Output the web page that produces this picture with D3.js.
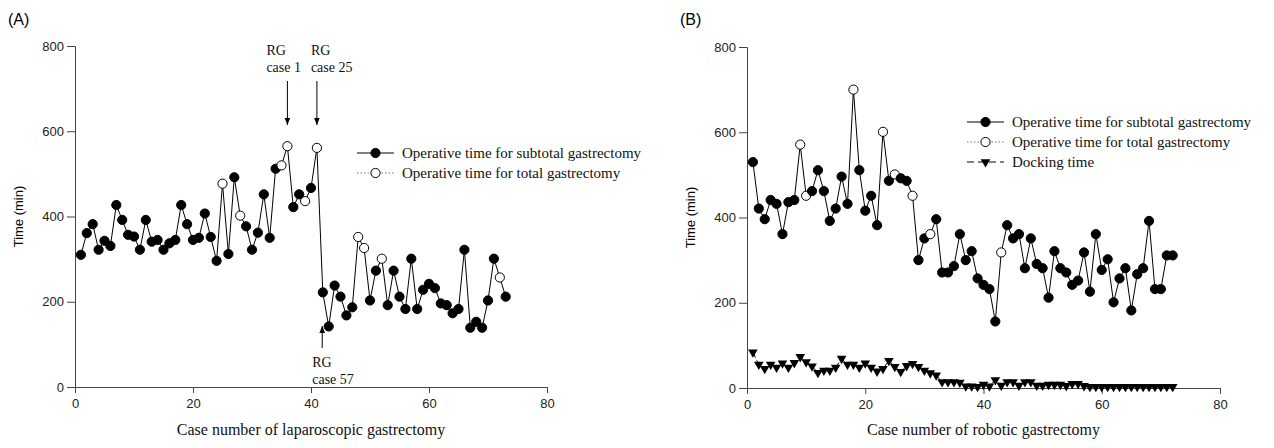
<!DOCTYPE html>
<html lang="en">
<head>
	<meta charset="UTF-8">
	<script src="https://d3js.org/d3.v7.min.js"></script>
	<title>Operative time</title>
	<style>
		body { margin: 0; background: #fff; }
		svg { display: block; }
		.tick text { font-family: "Liberation Sans", Arial, sans-serif; font-size: 13px; fill: #222; }
		.domain, .tick line { stroke: #444; }
		.serif { font-family: "Liberation Serif", "Times New Roman", serif; font-size: 15px; fill: #111; }
		.note { font-family: "Liberation Serif", "Times New Roman", serif; font-size: 14px; fill: #111; }
	</style>
</head>
<body>
	<svg width="1274" height="448"></svg>

	<script>
		// panel A: laparoscopic, case 1..73
		const lapTime = [310, 361, 382, 322, 343, 331, 427, 392, 357, 353,
			322, 392, 341, 345, 322, 337, 345, 427, 382, 345,
			350, 407, 352, 296, 477, 312, 492, 402, 377, 322,
			362, 452, 350, 512, 520, 565, 422, 452, 436, 467,
			561, 222, 142, 238, 212, 168, 187, 352, 326, 203,
			273, 301, 192, 273, 212, 183, 301, 183, 228, 242,
			232, 196, 192, 173, 183, 322, 139, 153, 139, 203,
			301, 257, 212];
		const lapTotalCases = [25, 28, 35, 36, 39, 41, 48, 49, 52, 72];

		// panel B: robotic, case 1..72
		const robTime = [530, 421, 396, 441, 432, 361, 436, 441, 571, 451,
			462, 511, 462, 392, 421, 496, 432, 700, 511, 416,
			451, 382, 601, 486, 501, 492, 486, 451, 300, 351,
			361, 396, 271, 271, 286, 361, 300, 321, 257, 242,
			232, 156, 318, 382, 351, 361, 281, 351, 291, 281,
			212, 321, 281, 271, 242, 252, 318, 226, 361, 277,
			302, 201, 257, 281, 182, 267, 281, 392, 232, 232,
			311, 311];
		const robTotalCases = [9, 10, 18, 23, 25, 28, 31, 43];
		const dockTime = [84, 55, 45, 55, 48, 58, 48, 59, 73, 61,
			51, 36, 41, 41, 48, 69, 55, 55, 48, 58,
			48, 39, 45, 64, 50, 38, 52, 57, 50, 41,
			35, 30, 14, 14, 14, 13, 4, 4, 3, 8,
			4, 19, 6, 14, 14, 6, 14, 14, 6, 6,
			8, 8, 8, 5, 10, 10, 5, 3, 3, 3,
			3, 3, 3, 3, 3, 3, 3, 3, 3, 3,
			3, 3];

		const xTicks = [0, 20, 40, 60, 80];
		const yTicks = [0, 200, 400, 600, 800];

		const svg = d3.select('svg');

		function panel(opts) {
			const x = d3.scaleLinear().domain([0, 80]).range([opts.left, opts.right]);
			const y = d3.scaleLinear().domain([0, 800]).range([opts.bottom, opts.top]);
			const g = svg.append('g');

			g.append('g')
				.attr('transform', `translate(0,${opts.bottom})`)
				.call(d3.axisBottom(x).tickValues(xTicks).tickSize(6).tickPadding(6));
			g.append('g')
				.attr('transform', `translate(${opts.left},0)`)
				.call(d3.axisLeft(y).tickValues(yTicks).tickSize(8).tickPadding(3));

			g.append('text').attr('class', 'serif')
				.style('font-size', '16px')
				.attr('x', (opts.left + opts.right) / 2).attr('y', 435)
				.attr('text-anchor', 'middle').text(opts.xTitle);
			g.append('text')
				.attr('transform', `translate(${opts.left - 52},${(opts.top + opts.bottom) / 2}) rotate(-90)`)
				.attr('text-anchor', 'middle')
				.style('font-family', '"Liberation Sans", Arial, sans-serif').style('font-size', '13px')
				.text('Time (min)');
			g.append('text')
				.attr('x', opts.left - 67).attr('y', 25)
				.style('font-family', '"Liberation Sans", Arial, sans-serif').style('font-size', '16px')
				.text(opts.label);

			const pts = opts.values.map((v, i) => ({ c: i + 1, v: v, open: opts.totals.includes(i + 1) }));
			const line = d3.line().x(d => x(d.c)).y(d => y(d.v));

			if (opts.dock) {
				const dp = opts.dock.map((v, i) => ({ c: i + 1, v: v }));
				g.append('path').datum(dp).attr('d', line)
					.attr('fill', 'none').attr('stroke', '#000').attr('stroke-width', 1)
					.attr('stroke-dasharray', '6,3');
				g.append('g').selectAll('path').data(dp).enter().append('path')
					.attr('d', d3.symbol().type(d3.symbolTriangle).size(40))
					.attr('transform', d => `translate(${x(d.c)},${y(d.v)}) rotate(180)`)
					.attr('fill', '#000');
			}

			g.append('path').datum(pts).attr('d', line)
				.attr('fill', 'none').attr('stroke', '#000').attr('stroke-width', 1);
			g.append('g').selectAll('circle').data(pts).enter().append('circle')
				.attr('cx', d => x(d.c)).attr('cy', d => y(d.v)).attr('r', 4.6)
				.attr('fill', d => d.open ? '#fff' : '#000')
				.attr('stroke', '#000').attr('stroke-width', 1);

			// legend
			const lg = g.append('g');
			opts.legend.items.forEach((it, i) => {
				const ly = opts.legend.y + i * 20;
				const lx0 = opts.legend.x, lx1 = opts.legend.x + 37;
				lg.append('line').attr('x1', lx0).attr('x2', lx1).attr('y1', ly).attr('y2', ly)
					.attr('stroke', it.kind === 'total' ? '#777' : '#000').attr('stroke-width', 1)
					.attr('stroke-dasharray', it.kind === 'total' ? '1.5,2' : it.kind === 'dock' ? '7,4' : null);
				if (it.kind === 'dock') {
					lg.append('path').attr('d', d3.symbol().type(d3.symbolTriangle).size(40))
						.attr('transform', `translate(${(lx0 + lx1) / 2},${ly}) rotate(180)`).attr('fill', '#000');
				} else {
					lg.append('circle').attr('cx', (lx0 + lx1) / 2).attr('cy', ly).attr('r', 4.6)
						.attr('fill', it.kind === 'total' ? '#fff' : '#000').attr('stroke', '#000');
				}
				lg.append('text').attr('class', 'serif').attr('x', lx1 + 8).attr('y', ly + 5).text(it.text);
			});

			return { x, y, g };
		}

		const A = panel({
			left: 75, right: 547, top: 46, bottom: 387,
			values: lapTime, totals: lapTotalCases, label: '(A)',
			xTitle: 'Case number of laparoscopic gastrectomy',
			legend: { x: 357, y: 153, items: [
				{ kind: 'sub', text: 'Operative time for subtotal gastrectomy' },
				{ kind: 'total', text: 'Operative time for total gastrectomy' }] }
		});

		const B = panel({
			left: 747, right: 1220, top: 47, bottom: 388,
			values: robTime, totals: robTotalCases, dock: dockTime, label: '(B)',
			xTitle: 'Case number of robotic gastrectomy',
			legend: { x: 967, y: 122, items: [
				{ kind: 'sub', text: 'Operative time for subtotal gastrectomy' },
				{ kind: 'total', text: 'Operative time for total gastrectomy' },
				{ kind: 'dock', text: 'Docking time' }] }
		});

		// RG annotations on panel A (text left-aligned, offset from arrow)
		const notes = [
			{ c: 36, lines: ['RG', 'case 1'], dir: 'down', dx: -21 },
			{ c: 41, lines: ['RG', 'case 25'], dir: 'down', dx: -6 },
			{ c: 41.9, lines: ['RG', 'case 57'], dir: 'up', dx: -10 }
		];
		svg.append('defs').append('marker')
			.attr('id', 'ah').attr('viewBox', '0 0 10 10').attr('refX', 10).attr('refY', 5)
			.attr('markerWidth', 7).attr('markerHeight', 7).attr('orient', 'auto-start-reverse')
			.append('path').attr('d', 'M0,1 L10,5 L0,9 Z').attr('fill', '#000');
		notes.forEach(n => {
			const px = A.x(n.c);
			if (n.dir === 'down') {
				A.g.append('line').attr('x1', px).attr('x2', px).attr('y1', 81).attr('y2', 125)
					.attr('stroke', '#000').attr('marker-end', 'url(#ah)');
				n.lines.forEach((t, i) => A.g.append('text').attr('class', 'note')
					.attr('x', px + n.dx).attr('y', 55 + i * 17).text(t));
			} else {
				A.g.append('line').attr('x1', px).attr('x2', px).attr('y1', 348).attr('y2', 326)
					.attr('stroke', '#000').attr('marker-end', 'url(#ah)');
				n.lines.forEach((t, i) => A.g.append('text').attr('class', 'note')
					.attr('x', px + n.dx).attr('y', 367 + i * 17).text(t));
			}
		});
	</script>
</body>
</html>
